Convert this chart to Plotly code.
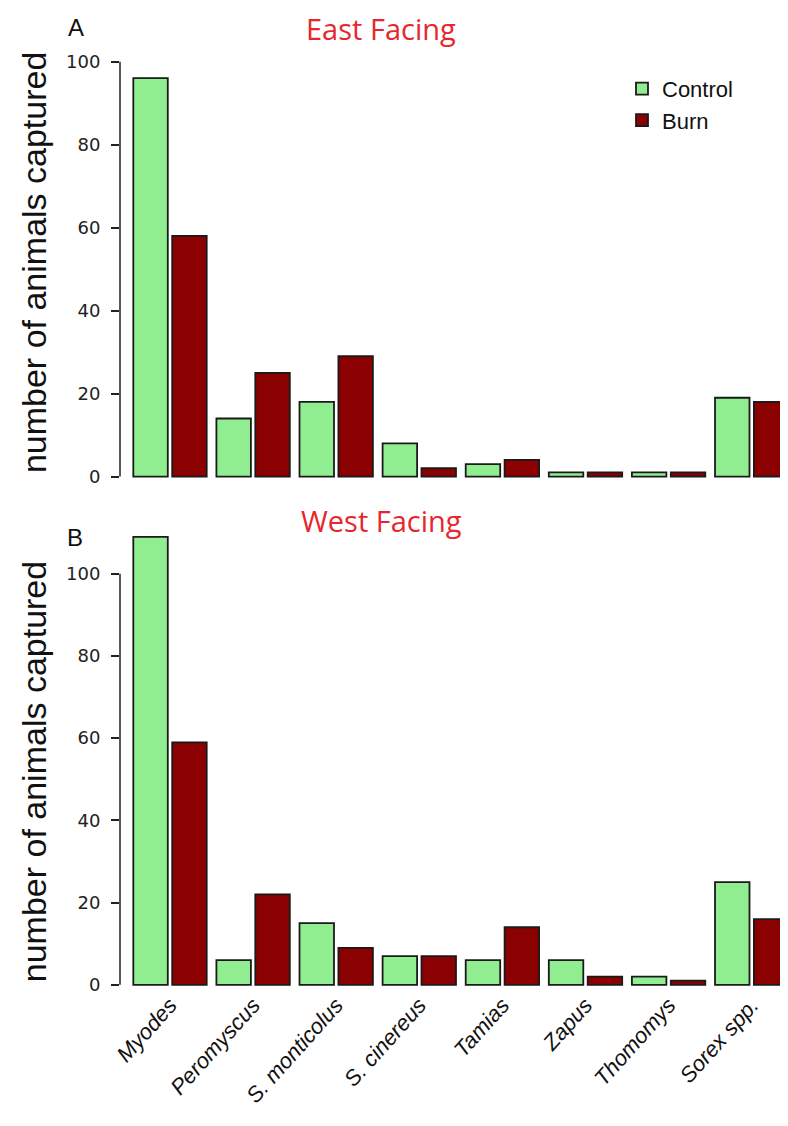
import plotly.graph_objects as go

species = ["Myodes", "Peromyscus", "S. monticolus", "S. cinereus",
           "Tamias", "Zapus", "Thomomys", "Sorex spp."]
east_control = [96, 14, 18, 8, 3, 1, 1, 19]
east_burn = [58, 25, 29, 2, 4, 1, 1, 18]
west_control = [109, 6, 15, 7, 6, 6, 2, 25]
west_burn = [59, 22, 9, 7, 14, 2, 1, 16]
y_ticks = [0, 20, 40, 60, 80, 100]

# page has an 8px body margin: work in page pixels and convert
OFF = 8
W, H = 788 - OFF, 1126 - OFF
ML = 120 - OFF
GREEN = "#90EE90"
RED = "#8B0000"
EDGE = "#1a1a1a"
TITLE_RED = "#e8262e"


def py(px):
    return 1 - (px - OFF) / H


def px_x(px):
    return (px - OFF - ML) / (W - ML)


fig = go.Figure()
fig.add_trace(go.Bar(x=species, y=east_control, name="Control", xaxis="x", yaxis="y",
                     marker=dict(color=GREEN, line=dict(color=EDGE, width=1.8)),
                     legendgroup="c"))
fig.add_trace(go.Bar(x=species, y=east_burn, name="Burn", xaxis="x", yaxis="y",
                     marker=dict(color=RED, line=dict(color=EDGE, width=1.8)),
                     legendgroup="b"))
fig.add_trace(go.Bar(x=species, y=west_control, name="Control", xaxis="x2", yaxis="y2",
                     marker=dict(color=GREEN, line=dict(color=EDGE, width=1.8)),
                     legendgroup="c", showlegend=False))
fig.add_trace(go.Bar(x=species, y=west_burn, name="Burn", xaxis="x2", yaxis="y2",
                     marker=dict(color=RED, line=dict(color=EDGE, width=1.8)),
                     legendgroup="b", showlegend=False))

# 83.1 px per category; plot area spans page x 120..788
xr = [-0.6017, -0.6017 + (788 - 120) / 83.1]
tickfont = dict(family="DejaVu Sans", size=18, color="#222")

yax_common = dict(tickvals=y_ticks, ticks="outside", ticklen=8, tickwidth=1.5,
                  tickcolor="#222", showline=False, showgrid=False, zeroline=False,
                  tickfont=tickfont, ticklabelstandoff=7)

fig.update_layout(
    width=W, height=H,
    margin=dict(l=ML, r=0, t=0, b=0),
    paper_bgcolor="white", plot_bgcolor="white",
    barmode="group", bargap=0.064, bargroupgap=0.113,
    xaxis=dict(domain=[0, 1], range=xr, anchor="y", showticklabels=False,
               showline=False, showgrid=False, zeroline=False, ticks="",
               categoryorder="array", categoryarray=species),
    yaxis=dict(domain=[py(484.5), py(41)], range=[-1.5, 105], anchor="x", **yax_common),
    xaxis2=dict(domain=[0, 1], range=xr, anchor="y2", showline=False, showgrid=False,
                zeroline=False, ticks="", tickangle=-48, ticklabelstandoff=-4,
                tickfont=dict(family="Liberation Sans", size=22, color="#111", style="italic"),
                categoryorder="array", categoryarray=species),
    yaxis2=dict(domain=[py(994.5), py(526.3)], range=[-1.5, 112], anchor="x2", **yax_common),
    legend=dict(x=px_x(622), y=py(68), xanchor="left", yanchor="top",
                font=dict(family="Liberation Sans", size=22, color="#111"),
                bgcolor="rgba(0,0,0,0)", itemwidth=30, tracegroupgap=0),
    showlegend=True,
)

# axis lines spanning 0..100 only (R style)
for yref in ["y", "y2"]:
    fig.add_shape(type="line", xref="paper", yref=yref, x0=0, x1=0, y0=0, y1=100,
                  line=dict(color="#222", width=1.5))

annots = [
    dict(text="East Facing", x=px_x(381), y=py(29), font=dict(family="Open Sans", size=29, color=TITLE_RED)),
    dict(text="West Facing", x=px_x(381), y=py(522), font=dict(family="Open Sans", size=29, color=TITLE_RED)),
    dict(text="A", x=px_x(76), y=py(28), font=dict(family="Liberation Sans", size=24, color="#111")),
    dict(text="B", x=px_x(75), y=py(539), font=dict(family="Liberation Sans", size=24, color="#111")),
    dict(text="number of animals captured", x=px_x(34), y=py(264), textangle=-90,
         font=dict(family="Liberation Sans", size=34, color="#111")),
    dict(text="number of animals captured", x=px_x(34), y=py(775), textangle=-90,
         font=dict(family="Liberation Sans", size=34, color="#111")),
]
for a in annots:
    fig.add_annotation(xref="paper", yref="paper", showarrow=False,
                       xanchor="center", yanchor="middle", borderpad=0, **a)

fig.write_html("out.html")
